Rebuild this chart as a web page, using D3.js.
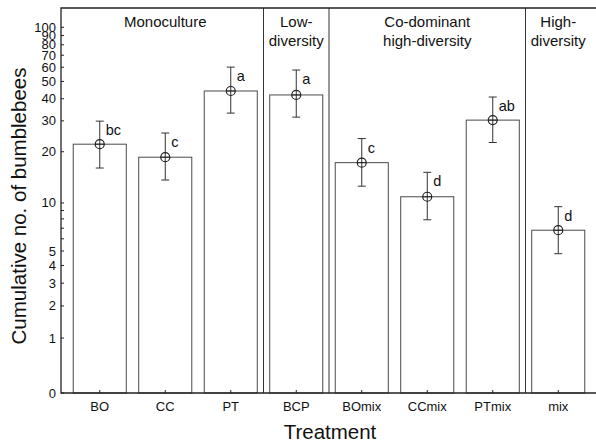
<!DOCTYPE html>
<html>
<head>
<meta charset="utf-8">
<script src="https://cdn.jsdelivr.net/npm/d3@7"></script>
<style>
  body { margin: 0; background: #fff; }
  text { font-family: "Liberation Sans", Arial, sans-serif; fill: #111; }
</style>
</head>
<body>
<svg id="chart" width="596" height="443"></svg>
<script>
// treatments and their values (cumulative number of bumblebees)
var treatments = ["BO", "CC", "PT", "BCP", "BOmix", "CCmix", "PTmix", "mix"];
var means = [22.1, 18.6, 44.2, 42.0, 17.3, 10.9, 30.3, 6.8];
var upper = [29.9, 25.6, 60.1, 57.9, 23.8, 15.2, 40.9, 9.5];
var lower = [16.1, 13.7, 33.2, 31.5, 12.6, 7.9, 22.6, 4.8];
var letters = ["bc", "c", "a", "a", "c", "d", "ab", "d"];

// groups: first and last treatment index, label lines
var groupStart = [0, 3, 4, 7];
var groupEnd = [2, 3, 6, 7];
var groupLabels = [["Monoculture"], ["Low-", "diversity"], ["Co-dominant", "high-diversity"], ["High-", "diversity"]];

var tickValues = [0, 1, 2, 3, 4, 5, 6, 7, 8, 9, 10, 20, 30, 40, 50, 60, 70, 80, 90, 100];
var labelledTicks = [0, 1, 2, 3, 4, 5, 10, 20, 30, 40, 50, 60, 70, 80, 90, 100];

var svg = d3.select("#chart");

// plot area (the right edge of the frame lies just outside the picture)
var pLeft = 61, pRight = 597, pTop = 8, pBottom = 393;

// x: one band per treatment
var x = d3.scaleBand()
    .domain(treatments)
    .range([pLeft + 6, pRight - 6]);
var barW = x.bandwidth() * 0.81;

// y: log(x+1) scale
var yl = d3.scaleLinear().domain([0, 2.11]).range([pBottom, pTop]);
var y = function(v) { return yl(Math.log10(v + 1)); };

// bars
svg.selectAll("rect.bar")
    .data(treatments)
    .enter().append("rect")
    .attr("class", "bar")
    .attr("x", function(d) { return x(d) + (x.bandwidth() - barW) / 2; })
    .attr("y", function(d, i) { return y(means[i]); })
    .attr("width", barW)
    .attr("height", function(d, i) { return pBottom - y(means[i]); })
    .attr("fill", "#fff")
    .attr("stroke", "#4a4a4a")
    .attr("stroke-width", 1);

// group separators
groupEnd.slice(0, 3).forEach(function(e) {
  var sx = x(treatments[e]) + x.bandwidth();
  svg.append("line")
      .attr("x1", sx).attr("x2", sx)
      .attr("y1", pTop).attr("y2", pBottom)
      .attr("stroke", "#333").attr("stroke-width", 1);
});

// group labels
groupLabels.forEach(function(lines, g) {
  var cx = (x(treatments[groupStart[g]]) + x(treatments[groupEnd[g]]) + x.bandwidth()) / 2;
  lines.forEach(function(t, k) {
    svg.append("text")
        .attr("x", cx)
        .attr("y", 27 + k * 18.5)
        .attr("text-anchor", "middle")
        .attr("font-size", 15)
        .text(t);
  });
});

// error bars, markers, letters
var eb = svg.selectAll("g.err")
    .data(treatments)
    .enter().append("g")
    .attr("class", "err")
    .attr("transform", function(d) { return "translate(" + (x(d) + x.bandwidth() / 2) + ",0)"; });

eb.append("line")
    .attr("y1", function(d, i) { return y(upper[i]); })
    .attr("y2", function(d, i) { return y(lower[i]); })
    .attr("stroke", "#333");
eb.append("line")
    .attr("x1", -4).attr("x2", 4)
    .attr("y1", function(d, i) { return y(upper[i]); })
    .attr("y2", function(d, i) { return y(upper[i]); })
    .attr("stroke", "#333");
eb.append("line")
    .attr("x1", -4).attr("x2", 4)
    .attr("y1", function(d, i) { return y(lower[i]); })
    .attr("y2", function(d, i) { return y(lower[i]); })
    .attr("stroke", "#333");
eb.append("circle")
    .attr("cy", function(d, i) { return y(means[i]); })
    .attr("r", 4.5)
    .attr("fill", "none")
    .attr("stroke", "#222")
    .attr("stroke-width", 1.2);
eb.append("line")
    .attr("x1", -4.5).attr("x2", 4.5)
    .attr("y1", function(d, i) { return y(means[i]); })
    .attr("y2", function(d, i) { return y(means[i]); })
    .attr("stroke", "#222");
eb.append("text")
    .attr("x", 6)
    .attr("y", function(d, i) { return y(upper[i]) + 14; })
    .attr("font-size", 14.5)
    .text(function(d, i) { return letters[i]; });

// frame
svg.append("path")
    .attr("d", "M" + pRight + "," + pTop + "H" + pLeft + "V" + pBottom + "H" + pRight)
    .attr("fill", "none")
    .attr("stroke", "#222")
    .attr("stroke-width", 1.3);

// y axis ticks (inward)
svg.selectAll("line.ytick")
    .data(tickValues)
    .enter().append("line")
    .attr("x1", pLeft).attr("x2", pLeft + 3)
    .attr("y1", function(d) { return y(d); })
    .attr("y2", function(d) { return y(d); })
    .attr("stroke", "#222");
svg.selectAll("text.ylab")
    .data(labelledTicks)
    .enter().append("text")
    .attr("x", pLeft - 5)
    .attr("y", function(d) { return y(d) + 4.5; })
    .attr("text-anchor", "end")
    .attr("font-size", 13)
    .text(function(d) { return d; });

// x axis ticks and labels
svg.selectAll("line.xtick")
    .data(treatments)
    .enter().append("line")
    .attr("x1", function(d) { return x(d) + x.bandwidth() / 2; })
    .attr("x2", function(d) { return x(d) + x.bandwidth() / 2; })
    .attr("y1", pBottom).attr("y2", pBottom - 3)
    .attr("stroke", "#222");
svg.selectAll("text.xlab")
    .data(treatments)
    .enter().append("text")
    .attr("x", function(d) { return x(d) + x.bandwidth() / 2; })
    .attr("y", 411)
    .attr("text-anchor", "middle")
    .attr("font-size", 13)
    .text(function(d) { return d; });

// axis titles
svg.append("text")
    .attr("x", 330)
    .attr("y", 439)
    .attr("text-anchor", "middle")
    .attr("font-size", 20.5)
    .text("Treatment");
svg.append("text")
    .attr("transform", "translate(26,206) rotate(-90)")
    .attr("text-anchor", "middle")
    .attr("font-size", 20.5)
    .text("Cumulative no. of bumblebees");
</script>
</body>
</html>
